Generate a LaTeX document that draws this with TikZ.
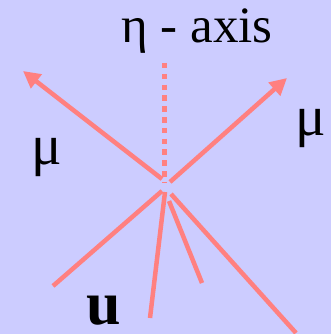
\documentclass[tikz,border=0pt]{standalone}
\usepackage{fontspec}
\setmainfont{Liberation Serif}
\usetikzlibrary{arrows.meta}
\definecolor{bgc}{HTML}{CCCCFF}
\definecolor{trk}{HTML}{FF8080}
\tikzset{
  track/.style={draw=trk, line width=4.5pt, line cap=butt},
  muon/.style={track, -{Triangle[length=17pt,width=17pt]}},
  axisline/.style={draw=trk, line width=5pt, dash pattern=on 5.5pt off 5.3pt},
  lbl/.style={inner sep=0pt, anchor=base west, text=black},
}
\begin{document}
\begin{tikzpicture}[x=1pt,y=-1pt]
\fill[bgc] (0,0) rectangle (331,334);
\useasboundingbox (0,0) rectangle (331,334);
% vertex points
\coordinate (vL) at (162,179);
\coordinate (vR) at (170,182);
\coordinate (vA) at (164,182);
\coordinate (vJ1) at (162,191);
\coordinate (vJ2) at (165,192);
\coordinate (vJ3) at (169,201);
\coordinate (vJ4) at (171,194);
% outer ends
\coordinate (mL) at (23,71);
\coordinate (mR) at (287,78);
\coordinate (aT) at (164,63);
\coordinate (j1) at (53,286);
\coordinate (j2) at (150,318);
\coordinate (j3) at (202,283);
\coordinate (j4) at (296,333);
% tracks
\draw[muon] (vL) -- (mL);
\draw[muon] (vR) -- (mR);
\draw[axisline] (aT) -- (vA);
\draw[track] (j1) -- (vJ1);
\draw[track] (j2) -- (vJ2);
\draw[track] (j3) -- (vJ3);
\draw[track] (j4) -- (vJ4);
% labels
\node[lbl, font=\fontsize{51}{53}\selectfont] (eta) at (121,43) {η - axis};
\node[lbl, font=\fontsize{57}{59}\selectfont] (muL) at (31,164) {μ};
\node[lbl, font=\fontsize{57}{59}\selectfont] (muR) at (295,135) {μ};
\node[lbl, font=\fontsize{62}{64}\selectfont\bfseries] (u) at (86,324) {u};
\end{tikzpicture}
\end{document}
